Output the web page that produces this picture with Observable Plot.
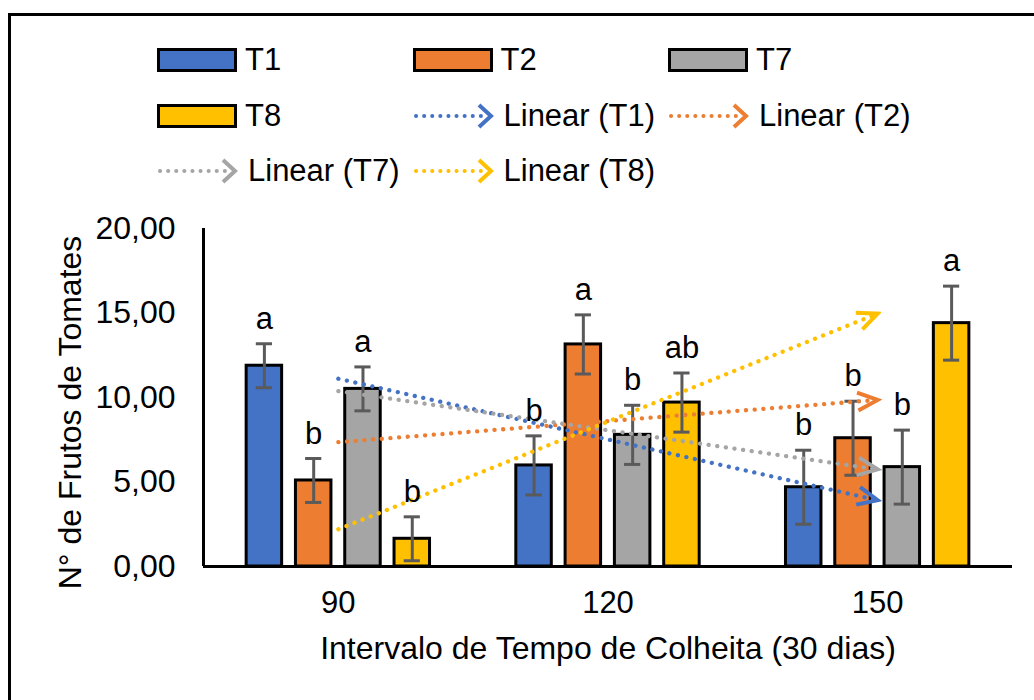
<!DOCTYPE html>
<html><head><meta charset="utf-8">
<script src="https://cdn.jsdelivr.net/npm/d3@7"></script>
<script src="https://cdn.jsdelivr.net/npm/@observablehq/plot@0.6"></script>
<style>
body{margin:0;background:#fff;width:1034px;height:700px;overflow:hidden;position:relative;font-family:"Liberation Sans",Arial,sans-serif;}
#frame{position:absolute;left:8px;top:13px;right:-20px;bottom:-20px;border-left:3px solid #000;border-top:3px solid #000;}
#legend{position:absolute;left:0;top:0;width:1034px;height:200px;}
.item{position:absolute;display:flex;align-items:center;height:40px;font-size:31px;color:#000;white-space:nowrap;}
.item svg{display:block;}
#chart{position:absolute;left:0;top:190px;}
</style></head><body>
<div id="frame"></div>
<div id="legend"></div>
<div id="chart"></div>
<script>
// ---- data ----
const categories = ["90", "120", "150"];
const seriesNames = ["T1", "T2", "T7", "T8"];
const seriesColors = ["#4472C4", "#ED7D31", "#A5A5A5", "#FFC000"];
const valuesT1 = [11.88, 5.98, 4.69];
const valuesT2 = [5.09, 13.14, 7.59];
const valuesT7 = [10.51, 7.79, 5.88];
const valuesT8 = [1.64, 9.70, 14.40];
const errors = [1.30, 1.75, 2.19];
const lettersT1 = ["a", "b", "b"];
const lettersT2 = ["b", "a", "b"];
const lettersT7 = ["a", "b", "b"];
const lettersT8 = ["b", "ab", "a"];
const yTicks = [0, 5, 10, 15, 20];
const yLabel = "N° de Frutos de Tomates";
const xLabel = "Intervalo de Tempo de Colheita (30 dias)";

const seriesValues = [valuesT1, valuesT2, valuesT7, valuesT8];
const seriesLetters = [lettersT1, lettersT2, lettersT7, lettersT8];

// ---- layout constants ----
const barStep = 0.1828, halfBar = 0.0658, capHalf = 0.03;

const rows = [];
seriesNames.forEach((s, j) => {
  seriesValues[j].forEach((v, i) => {
    rows.push({series: s, cat: i + 1, x: i + 1 + (j - 1.5) * barStep, value: v, err: errors[i], letter: seriesLetters[j][i]});
  });
});
const caps = rows.flatMap(d => [{x: d.x, y: d.value - d.err}, {x: d.x, y: d.value + d.err}]);

const trend = [];
seriesNames.forEach((s, j) => {
  const xs = categories.map((_, i) => i + 1);
  const ys = seriesValues[j];
  const mx = d3.mean(xs), my = d3.mean(ys);
  const b = d3.sum(xs, (x, i) => (x - mx) * (ys[i] - my)) / d3.sum(xs, x => (x - mx) ** 2);
  const a = my - b * mx;
  const x0 = xs[0], x1 = xs[xs.length - 1];
  trend.push({series: s, x: x0, y: a + b * x0}, {series: s, x: x1, y: a + b * x1});
});

const fmt = d => d.toFixed(2).replace(".", ",");

const svg = Plot.plot({
  width: 1034,
  height: 510,
  marginLeft: 203,
  marginRight: 22,
  marginTop: 38,
  marginBottom: 134,
  style: {fontSize: "31px", fontFamily: "'Liberation Sans', Arial, sans-serif", color: "#000", background: "transparent", overflow: "visible"},
  x: {type: "linear", domain: [0.5, 3.5]},
  y: {domain: [0, 20]},
  color: {domain: seriesNames, range: seriesColors},
  marks: [
    Plot.rect(rows, {x1: d => d.x - halfBar, x2: d => d.x + halfBar, y1: 0, y2: "value", fill: "series", stroke: "#000", strokeWidth: 3}),
    Plot.ruleX(rows, {x: "x", y1: d => d.value - d.err, y2: d => d.value + d.err, stroke: "#5a5a5a", strokeWidth: 3}),
    Plot.ruleY(caps, {y: "y", x1: d => d.x - capHalf, x2: d => d.x + capHalf, stroke: "#5a5a5a", strokeWidth: 3}),
    Plot.ruleY([0], {stroke: "#000", strokeWidth: 3}),
    Plot.ruleX([0.5], {stroke: "#000", strokeWidth: 3}),
    Plot.line(trend, {x: "x", y: "y", z: "series", stroke: "series", strokeWidth: 4.3, strokeDasharray: "0.1 8.6", strokeLinecap: "round", markerEnd: "arrow"}),
    Plot.text(rows, {x: "x", y: d => d.value + d.err, text: "letter", lineAnchor: "bottom", dy: -15, fill: "#000"}),
    Plot.axisY({ticks: yTicks, tickFormat: fmt, tickSize: 0, tickPadding: 28, label: null, fontSize: 32}),
    Plot.axisX({ticks: [1, 2, 3], tickFormat: d => categories[d - 1], tickSize: 0, tickPadding: 24, label: null}),
    Plot.text([yLabel], {text: d => d, frameAnchor: "left", textAnchor: "middle", rotate: -90, dx: -133, dy: 15, fill: "#000", fontSize: 32}),
    Plot.text([xLabel], {text: d => d, frameAnchor: "bottom", textAnchor: "middle", dy: 92, fill: "#000", fontSize: 32})
  ]
});

svg.querySelectorAll("marker").forEach(m => {
  m.setAttribute("markerUnits", "userSpaceOnUse");
  m.setAttribute("viewBox", "-26 -14 30 28");
  m.setAttribute("markerWidth", 30);
  m.setAttribute("markerHeight", 28);
  m.setAttribute("stroke-dasharray", "none");
  m.setAttribute("stroke-width", 4);
  m.setAttribute("stroke-linecap", "butt");
  m.setAttribute("stroke-linejoin", "miter");
  m.querySelector("path").setAttribute("d", "M-20,-9L0,0L-20,9");
});
document.getElementById("chart").appendChild(svg);

// ---- legend ----
const legend = document.getElementById("legend");
const legendItems = [
  ...seriesNames.map((s, j) => ({kind: "bar", label: s, color: seriesColors[j]})),
  ...seriesNames.map((s, j) => ({kind: "trend", label: `Linear (${s})`, color: seriesColors[j]}))
];
const NS = "http://www.w3.org/2000/svg";
legendItems.forEach((it, k) => {
  const col = k % 3, row = Math.floor(k / 3);
  const div = document.createElement("div");
  div.className = "item";
  div.style.left = (157 + col * 255.5) + "px";
  div.style.top = (40 + row * 55.5) + "px";
  const s = document.createElementNS(NS, "svg");
  if (it.kind === "bar") {
    s.setAttribute("width", 80); s.setAttribute("height", 24);
    s.innerHTML = `<rect x="1.5" y="1.5" width="77" height="21" fill="${it.color}" stroke="#000" stroke-width="3"/>`;
    s.style.marginRight = "8px";
  } else {
    s.setAttribute("width", 82); s.setAttribute("height", 30);
    s.innerHTML = `<line x1="3" y1="15" x2="70" y2="15" stroke="${it.color}" stroke-width="4" stroke-dasharray="0.1 8" stroke-linecap="round"/>` +
      `<path d="M66,4L78,15L66,26" fill="none" stroke="${it.color}" stroke-width="4"/>`;
    s.style.marginRight = "9px";
  }
  div.appendChild(s);
  const t = document.createElement("span");
  t.textContent = it.label;
  div.appendChild(t);
  legend.appendChild(div);
});
</script>
</body></html>
